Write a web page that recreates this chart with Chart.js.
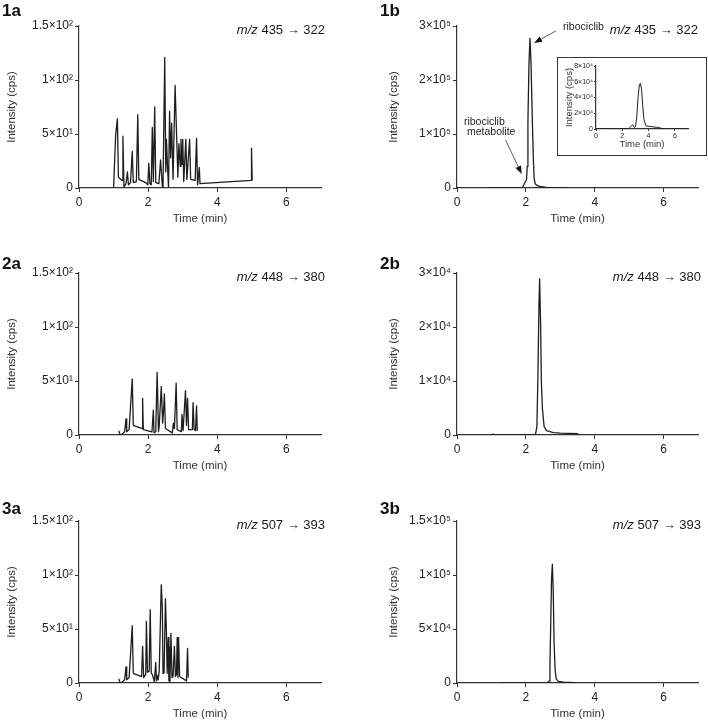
<!DOCTYPE html>
<html>
<head>
<meta charset="utf-8">
<script src="https://cdn.jsdelivr.net/npm/chart.js@4.4.1/dist/chart.umd.min.js"></script>
<style>
  body { margin: 0; background: #fff; }
  #wrap { position: relative; width: 708px; height: 720px; overflow: hidden; }
  canvas { position: absolute; }
  #inset { position: absolute; left: 557px; top: 57px; width: 148px; height: 97px; border: 1px solid #333; background: #fff; }
</style>
</head>
<body>
<div id="wrap">
  <canvas id="c1a" width="330" height="245" style="left:0;top:0;width:330px;height:245px"></canvas>
  <canvas id="c1b" width="330" height="245" style="left:378px;top:0;width:330px;height:245px"></canvas>
  <canvas id="c2a" width="330" height="245" style="left:0;top:247px;width:330px;height:245px"></canvas>
  <canvas id="c2b" width="330" height="245" style="left:378px;top:247px;width:330px;height:245px"></canvas>
  <canvas id="c3a" width="330" height="245" style="left:0;top:495px;width:330px;height:245px"></canvas>
  <canvas id="c3b" width="330" height="245" style="left:378px;top:495px;width:330px;height:245px"></canvas>
  <div id="inset"><canvas id="cin" width="148" height="97" style="left:0;top:0;width:148px;height:97px"></canvas></div>
</div>
<script>
const FONT = "'Liberation Sans', Arial, Helvetica, sans-serif";

// axis ticks
const xTicks = [0, 2, 4, 6];
const yTicksA = [0, 50, 100, 150];
const yLabelsA = ['0', '5×10¹', '1×10²', '1.5×10²'];
const yTicks1b = [0, 100000, 200000, 300000];
const yLabels1b = ['0', '1×10⁵', '2×10⁵', '3×10⁵'];
const yTicks2b = [0, 10000, 20000, 30000];
const yLabels2b = ['0', '1×10⁴', '2×10⁴', '3×10⁴'];
const yTicks3b = [0, 50000, 100000, 150000];
const yLabels3b = ['0', '5×10⁴', '1×10⁵', '1.5×10⁵'];
const yTicksIn = [0, 20000, 40000, 60000, 80000];
const yLabelsIn = ['0', '2×10⁴', '4×10⁴', '6×10⁴', '8×10⁴'];

// 1a  blank, m/z 435 -> 322
const t1a = [1.00, 1.06, 1.11, 1.14, 1.25, 1.27, 1.30, 1.36, 1.40, 1.43, 1.49, 1.54, 1.57, 1.66, 1.70, 1.73, 1.93, 1.99, 2.02, 2.05, 2.09, 2.12, 2.15, 2.19, 2.22, 2.31, 2.36, 2.41, 2.43, 2.48, 2.51, 2.53, 2.56, 2.59, 2.62, 2.65, 2.68, 2.72, 2.78, 2.83, 2.86, 2.89, 2.93, 2.95, 2.98, 3.00, 3.03, 3.09, 3.12, 3.20, 3.23, 3.36, 3.40, 3.43, 3.48, 3.50, 4.98, 4.99, 5.01];
const y1a = [0, 49, 64, 10, 7, 48, 1, 4, 15, 3, 5, 34, 5, 6, 68, 8, 5, 3, 23, 4, 3, 56, 6, 75, 5, 4, 26, 2, 0, 121, 15, 45, 20, 0, 71, 28, 60, 8, 95, 42, 10, 41, 20, 45, 22, 45, 6, 45, 8, 45, 8, 7, 46, 3, 19, 4, 7, 37, 7];
// 1b  ribociclib
const t1b = [0.9, 1.88, 1.92, 1.96, 2.00, 2.02, 2.04, 2.06, 2.09, 2.12, 2.15, 2.19, 2.22, 2.24, 2.27, 2.32, 2.40, 2.60, 3.00, 3.20];
const y1b = [0, 0, 3000, 9000, 13000, 16000, 40000, 120000, 230000, 277000, 230000, 120000, 50000, 18000, 8000, 5000, 3000, 1200, 500, 0];
// 1b inset
const tIn = [0, 1.05, 1.1, 2.5, 2.65, 2.78, 2.9, 3.0, 3.1, 3.2, 3.3, 3.38, 3.47, 3.55, 3.65, 3.8, 4.2, 4.7, 5.0, 5.3, 7];
const yIn = [0, 300, 0, 500, 3000, 5500, 2000, 3000, 15000, 40000, 56000, 58000, 50000, 30000, 12000, 4000, 3000, 2000, 800, 0, 0];
// 2a  blank, m/z 448 -> 380
const t2a = [1.15, 1.18, 1.22, 1.32, 1.36, 1.38, 1.45, 1.54, 1.57, 1.83, 1.84, 1.86, 2.11, 2.15, 2.17, 2.22, 2.26, 2.30, 2.32, 2.38, 2.42, 2.44, 2.47, 2.50, 2.70, 2.73, 2.76, 2.81, 2.84, 2.96, 2.98, 3.01, 3.08, 3.11, 3.14, 3.17, 3.28, 3.30, 3.33, 3.37, 3.40, 3.42];
const y2a = [4, 1, 0, 3, 15, 3, 5, 52, 9, 6, 34, 5, 3, 23, 2, 3, 58, 3, 8, 45, 11, 20, 38, 6, 2, 11, 6, 48, 5, 3, 19, 4, 41, 9, 34, 5, 5, 30, 5, 4, 27, 4];
// 2b
const t2b = [1.0, 1.05, 1.1, 2.0, 2.28, 2.32, 2.35, 2.38, 2.40, 2.43, 2.45, 2.48, 2.53, 2.6, 2.8, 3.0, 3.5, 3.55];
const y2b = [0, 150, 0, 0, 100, 1500, 10600, 24000, 28900, 19900, 10000, 5000, 1550, 800, 450, 350, 250, 0];
// 3a  blank, m/z 507 -> 393
const t3a = [1.15, 1.18, 1.22, 1.32, 1.36, 1.38, 1.45, 1.54, 1.57, 1.81, 1.84, 1.87, 1.93, 1.95, 1.98, 2.03, 2.06, 2.09, 2.12, 2.18, 2.22, 2.24, 2.26, 2.29, 2.32, 2.38, 2.41, 2.43, 2.46, 2.50, 2.53, 2.55, 2.58, 2.60, 2.62, 2.63, 2.66, 2.69, 2.72, 2.76, 2.79, 2.82, 2.84, 2.86, 2.88, 2.91, 3.11, 3.14, 3.16];
const y3a = [4, 1, 0, 3, 15, 3, 5, 53, 9, 6, 34, 5, 8, 57, 10, 11, 68, 9, 8, 1, 19, 2, 7, 3, 11, 91, 70, 9, 9, 78, 45, 9, 42, 2, 33, 1, 46, 5, 6, 34, 6, 8, 42, 5, 42, 6, 2, 32, 5];
// 3b
const t3b = [1.3, 2.3, 2.35, 2.6, 2.66, 2.68, 2.70, 2.72, 2.745, 2.77, 2.795, 2.82, 2.85, 2.88, 2.94, 3.1, 3.4, 3.45];
const y3b = [0, 0, 400, 400, 800, 2000, 18000, 50000, 95000, 110000, 85000, 37000, 12000, 4000, 1500, 800, 300, 0];

function panelLabel(ctx, text, y) {
  ctx.save();
  ctx.font = 'bold 17px ' + FONT;
  ctx.fillStyle = '#111';
  ctx.textAlign = 'left';
  ctx.textBaseline = 'alphabetic';
  ctx.fillText(text, 2, y);
  ctx.restore();
}

function mzText(chart, rest, dx) {
  const { ctx, chartArea } = chart;
  ctx.save();
  ctx.font = 'italic 13px ' + FONT;
  const w1 = ctx.measureText('m/z').width;
  ctx.font = '13px ' + FONT;
  const w2 = ctx.measureText(rest).width;
  const x0 = chartArea.right + dx - w1 - w2;
  const y0 = chartArea.top + 8;
  ctx.fillStyle = '#1a1a1a';
  ctx.textBaseline = 'alphabetic';
  ctx.textAlign = 'left';
  ctx.font = 'italic 13px ' + FONT;
  ctx.fillText('m/z', x0, y0);
  ctx.font = '13px ' + FONT;
  ctx.fillText(rest, x0 + w1, y0);
  ctx.restore();
}

function arrow(chart, from, to) {
  const xs = chart.scales.x, ys = chart.scales.y, ctx = chart.ctx;
  const x1 = xs.getPixelForValue(from[0]), y1 = ys.getPixelForValue(from[1]);
  const x2 = xs.getPixelForValue(to[0]), y2 = ys.getPixelForValue(to[1]);
  const a = Math.atan2(y2 - y1, x2 - x1);
  const hl = 8, hw = 3;
  const bx = x2 - hl * Math.cos(a), by = y2 - hl * Math.sin(a);
  ctx.save();
  ctx.strokeStyle = '#333';
  ctx.lineWidth = 0.8;
  ctx.beginPath();
  ctx.moveTo(x1, y1);
  ctx.lineTo(bx, by);
  ctx.stroke();
  ctx.fillStyle = '#111';
  ctx.beginPath();
  ctx.moveTo(x2, y2);
  ctx.lineTo(bx + hw * Math.sin(a), by - hw * Math.cos(a));
  ctx.lineTo(bx - hw * Math.sin(a), by + hw * Math.cos(a));
  ctx.closePath();
  ctx.fill();
  ctx.restore();
}

function noteText(chart, text, at) {
  const ctx = chart.ctx;
  ctx.save();
  ctx.font = '10.5px ' + FONT;
  ctx.fillStyle = '#222';
  ctx.textAlign = 'left';
  ctx.textBaseline = 'alphabetic';
  ctx.fillText(text, chart.scales.x.getPixelForValue(at[0]), chart.scales.y.getPixelForValue(at[1]));
  ctx.restore();
}

function makePanel(cfg) {
  const pts = cfg.t.map((t, i) => ({ x: t, y: cfg.y[i] }));
  const small = !!cfg.small;
  const tickSize = small ? 7 : 12;
  const titleSize = small ? 9.5 : 11.5;
  return new Chart(document.getElementById(cfg.id), {
    type: 'line',
    data: {
      datasets: [{
        data: pts,
        borderColor: '#1e1e1e',
        borderWidth: small ? 1 : 1.3,
        borderJoinStyle: 'round',
        pointRadius: 0,
        tension: 0,
        fill: false
      }]
    },
    options: {
      responsive: false,
      animation: false,
      events: [],
      layout: { padding: { top: cfg.top, right: cfg.right, left: 0, bottom: 0 } },
      plugins: { legend: { display: false }, tooltip: { enabled: false } },
      scales: {
        x: {
          type: 'linear', min: 0, max: 7,
          afterBuildTicks: s => { s.ticks = xTicks.map(v => ({ value: v })); },
          ticks: { color: '#222', font: { family: FONT, size: tickSize }, padding: cfg.xpad, maxRotation: 0, autoSkip: false },
          grid: { drawOnChartArea: false, tickLength: cfg.tick, color: '#333', lineWidth: 1 },
          border: { color: '#333', width: 1.2 },
          title: { display: true, text: 'Time (min)', color: '#333', font: { family: FONT, size: titleSize }, padding: { top: 0, bottom: cfg.xtitle } },
          afterFit: s => { s.height = cfg.xh; }
        },
        y: {
          type: 'linear', min: 0, max: cfg.yTicks[cfg.yTicks.length - 1],
          afterBuildTicks: s => { s.ticks = cfg.yTicks.map(v => ({ value: v })); },
          ticks: { color: '#222', font: { family: FONT, size: tickSize }, padding: cfg.ypad, autoSkip: false, callback: (v, i) => cfg.yLabels[i] },
          grid: { drawOnChartArea: false, tickLength: cfg.tick, color: '#333', lineWidth: 1 },
          border: { color: '#333', width: 1.2 },
          title: { display: true, text: 'Intensity (cps)', color: '#333', font: { family: FONT, size: titleSize }, padding: { top: cfg.ytitle, bottom: 0 } },
          afterFit: s => { s.width = cfg.yw; }
        }
      }
    },
    plugins: [{ id: 'panelText', afterDraw: chart => { if (cfg.draw) cfg.draw(chart); } }]
  });
}

const mainL = { top: 26, right: 9, yw: 79, xh: 57, tick: 4, xpad: 3, ypad: 2, ytitle: 5.1, xtitle: 19.1 };
const mainR = { top: 26, right: 10, yw: 79, xh: 57, tick: 4, xpad: 3, ypad: 2, ytitle: 9.1, xtitle: 19.1 };

makePanel(Object.assign({}, mainL, {
  id: 'c1a', t: t1a, y: y1a, yTicks: yTicksA, yLabels: yLabelsA,
  draw: c => { panelLabel(c.ctx, '1a', 16); mzText(c, ' 435 → 322', 4); }
}));
makePanel(Object.assign({}, mainR, {
  id: 'c1b', t: t1b, y: y1b, yTicks: yTicks1b, yLabels: yLabels1b,
  draw: c => {
    panelLabel(c.ctx, '1b', 16);
    mzText(c, ' 435 → 322', 0);
    noteText(c, 'ribociclib', [3.08, 293000]);
    arrow(c, [2.875, 291000], [2.24, 268500]);
    noteText(c, 'ribociclib', [0.20, 117000]);
    noteText(c, 'metabolite', [0.29, 98000]);
    arrow(c, [1.41, 89000], [1.88, 26000]);
  }
}));
makePanel(Object.assign({}, mainL, {
  id: 'c2a', t: t2a, y: y2a, yTicks: yTicksA, yLabels: yLabelsA,
  draw: c => { panelLabel(c.ctx, '2a', 21.5); mzText(c, ' 448 → 380', 4); }
}));
makePanel(Object.assign({}, mainR, {
  id: 'c2b', t: t2b, y: y2b, yTicks: yTicks2b, yLabels: yLabels2b,
  draw: c => { panelLabel(c.ctx, '2b', 21.5); mzText(c, ' 448 → 380', 3); }
}));
makePanel(Object.assign({}, mainL, {
  id: 'c3a', t: t3a, y: y3a, yTicks: yTicksA, yLabels: yLabelsA,
  draw: c => { panelLabel(c.ctx, '3a', 19); mzText(c, ' 507 → 393', 4); }
}));
makePanel(Object.assign({}, mainR, {
  id: 'c3b', t: t3b, y: y3b, yTicks: yTicks3b, yLabels: yLabels3b,
  draw: c => { panelLabel(c.ctx, '3b', 19); mzText(c, ' 507 → 393', 3); }
}));
makePanel({
  id: 'cin', small: true, t: tIn, y: yIn, yTicks: yTicksIn, yLabels: yLabelsIn,
  top: 8, right: 18, yw: 38, xh: 26, tick: 2, xpad: 1, ypad: 1, ytitle: 5.6, xtitle: 4.6
});
</script>
</body>
</html>
